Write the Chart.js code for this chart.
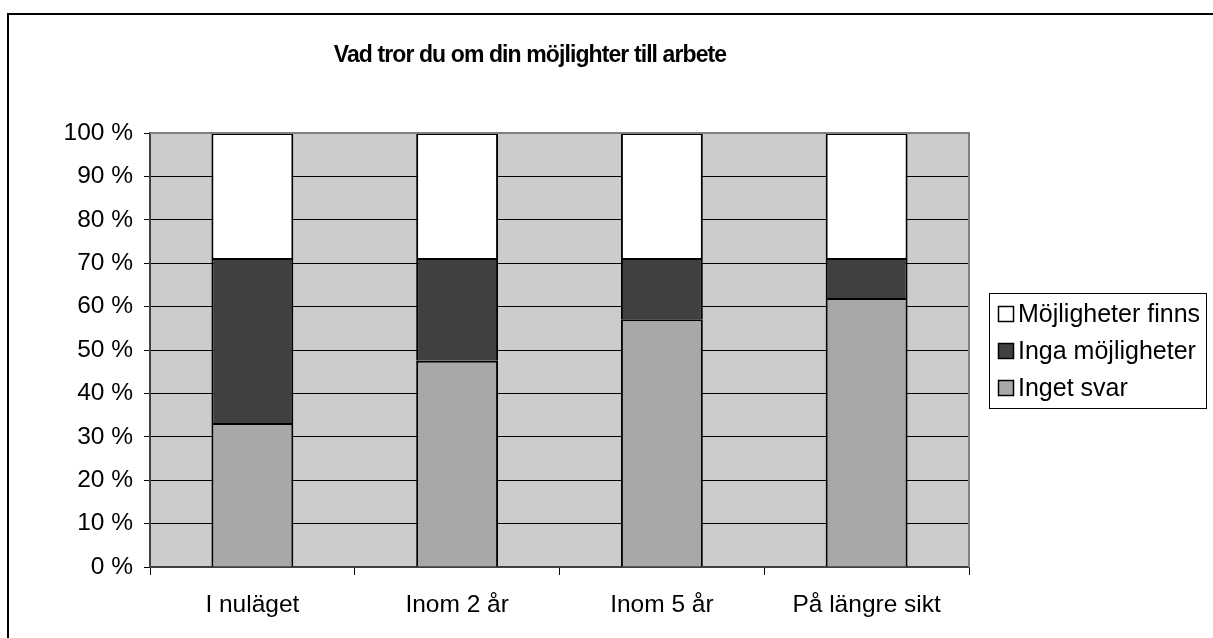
<!DOCTYPE html>
<html>
<head>
<meta charset="utf-8">
<script src="https://cdn.jsdelivr.net/npm/chart.js@4"></script>
<style>
  body { margin: 0; background: #fff; }
  #wrap { position: relative; width: 1213px; height: 638px; }
</style>
</head>
<body>
<div id="wrap"><canvas id="myChart" width="1213" height="638"></canvas></div>
<script>
const ctx = document.getElementById('myChart').getContext('2d');

const titel = 'Vad tror du om din möjlighter till arbete'
const kategorier = ['I nuläget', 'Inom 2 år', 'Inom 5 år', 'På längre sikt']
const ingetSvar = [33.2, 47.5, 57.1, 62.0]
const ingaMojligheter = [38.0, 23.7, 14.1, 9.2]
const mojligheterFinns = [28.8, 28.8, 28.8, 28.8]
const yTicks = [0, 10, 20, 30, 40, 50, 60, 70, 80, 90, 100]

const FONT = '"Liberation Sans", Arial, sans-serif'

// gray plot background, outer frame, title
const bakgrund = {
    id: 'bakgrund',
    beforeDraw(chart) {
        const c = chart.ctx
        const a = chart.chartArea
        c.save()
        c.fillStyle = '#fff'
        c.fillRect(0, 0, chart.width, chart.height)
        c.strokeStyle = '#000'
        c.lineWidth = 2
        c.strokeRect(8, 14, chart.width + 20, chart.height + 20)
        c.fillStyle = '#cccccc'
        c.fillRect(a.left, a.top, a.right - a.left, a.bottom - a.top)
        c.fillStyle = '#000'
        c.font = 'bold 23px ' + FONT
        c.letterSpacing = '-0.9px'
        c.textAlign = 'center'
        c.textBaseline = 'middle'
        c.fillText(titel, 530, 56)
        c.restore()
    },
    afterDatasetsDraw(chart) {
        const c = chart.ctx
        const a = chart.chartArea
        c.save()
        c.strokeStyle = '#808080'
        c.lineWidth = 2
        c.beginPath()
        c.moveTo(a.left, a.top)
        c.lineTo(a.right, a.top)
        c.lineTo(a.right, a.bottom)
        c.stroke()
        c.restore()
    }
}

// legend with a frame, to the right of the plot
const legendRuta = {
    id: 'legendRuta',
    afterDraw(chart) {
        const c = chart.ctx
        const x = 989, y = 293, w = 217, h = 115
        c.save()
        c.fillStyle = '#fff'
        c.fillRect(x, y, w, h)
        c.strokeStyle = '#000'
        c.lineWidth = 1
        c.strokeRect(x + 0.5, y + 0.5, w, h)
        c.font = '25px ' + FONT
        c.textBaseline = 'middle'
        const ds = chart.data.datasets.slice().reverse()
        ds.forEach((d, i) => {
            const cy = y + 21 + i * 37
            c.fillStyle = d.backgroundColor
            c.fillRect(x + 9, cy - 8, 16, 16)
            c.strokeStyle = '#000'
            c.lineWidth = 1.5
            c.strokeRect(x + 9.5, cy - 7.5, 15, 15)
            c.fillStyle = '#000'
            c.fillText(d.label, x + 29, cy + 1)
        })
        c.restore()
    }
}

new Chart(ctx, {
    type: 'bar',
    data: {
        labels: kategorier,
        datasets: [
            { label: 'Inget svar', data: ingetSvar, backgroundColor: '#a8a8a8' },
            { label: 'Inga möjligheter', data: ingaMojligheter, backgroundColor: '#404040' },
            { label: 'Möjligheter finns', data: mojligheterFinns, backgroundColor: '#ffffff' }
        ].map(d => Object.assign(d, {
            borderColor: '#000',
            borderWidth: 2,
            categoryPercentage: 1,
            barPercentage: 0.4
        }))
    },
    plugins: [bakgrund, legendRuta],
    options: {
        responsive: false,
        animation: false,
        layout: { padding: { left: 0, top: 133, right: 244, bottom: 0 } },
        plugins: {
            legend: { display: false },
            title: { display: false },
            tooltip: { enabled: false }
        },
        scales: {
            x: {
                stacked: true,
                grid: {
                    offset: true,
                    drawOnChartArea: false,
                    color: '#000',
                    tickLength: 8
                },
                border: { color: '#404040', width: 2 },
                ticks: { color: '#000', font: { family: FONT, size: 24.5 }, padding: 16 },
                afterFit(s) { s.height = 71 }
            },
            y: {
                stacked: true,
                min: 0,
                max: 100,
                afterBuildTicks(s) { s.ticks = yTicks.map(v => ({ value: v })) },
                grid: { color: '#000', lineWidth: 1, tickLength: 6 },
                border: { color: '#404040', width: 2 },
                ticks: {
                    color: '#000',
                    font: { family: FONT, size: 24.5 },
                    padding: 11,
                    callback: v => v + ' %'
                },
                afterFit(s) { s.width = 150 }
            }
        }
    }
});
</script>
</body>
</html>
